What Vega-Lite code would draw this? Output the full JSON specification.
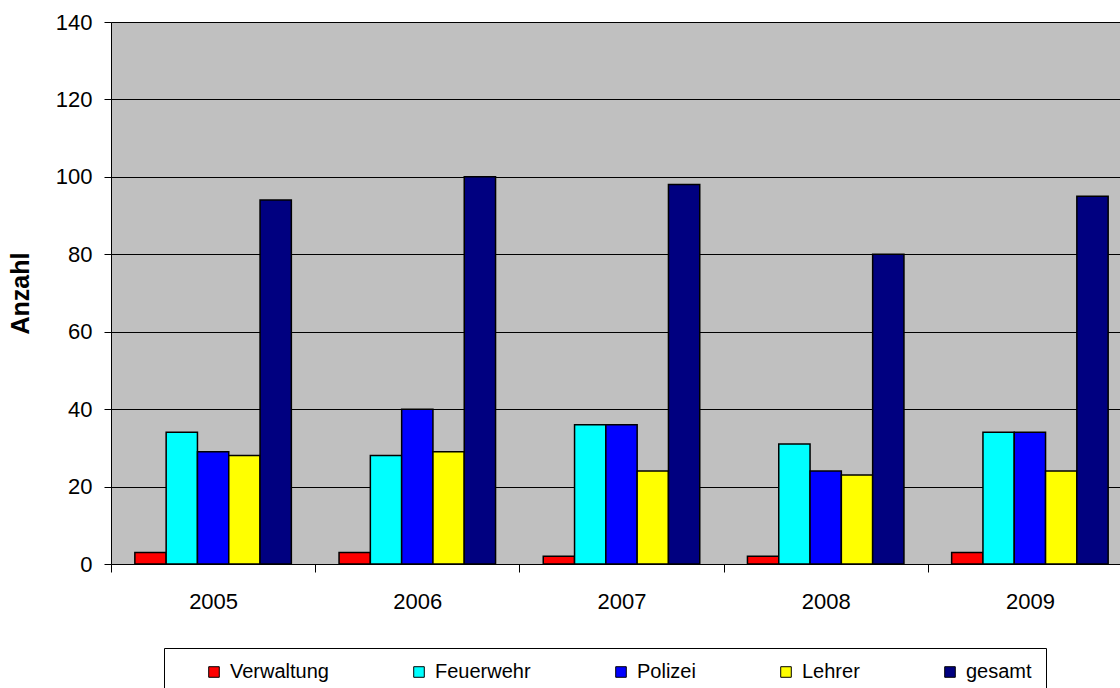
{
  "$schema": "https://vega.github.io/schema/vega-lite/v6.json",
  "autosize": {"type": "none"},
  "padding": {"left": 111, "top": 22, "right": 0, "bottom": 124},
  "width": 1009,
  "height": 542,
  "background": "white",
  "config": {
    "view": {"fill": "#C0C0C0", "stroke": null},
    "font": "Liberation Sans"
  },
  "data": {
    "values": [
      {"Jahr": "2005", "Gruppe": "Verwaltung", "Anzahl": 3},
      {"Jahr": "2005", "Gruppe": "Feuerwehr", "Anzahl": 34},
      {"Jahr": "2005", "Gruppe": "Polizei", "Anzahl": 29},
      {"Jahr": "2005", "Gruppe": "Lehrer", "Anzahl": 28},
      {"Jahr": "2005", "Gruppe": "gesamt", "Anzahl": 94},
      {"Jahr": "2006", "Gruppe": "Verwaltung", "Anzahl": 3},
      {"Jahr": "2006", "Gruppe": "Feuerwehr", "Anzahl": 28},
      {"Jahr": "2006", "Gruppe": "Polizei", "Anzahl": 40},
      {"Jahr": "2006", "Gruppe": "Lehrer", "Anzahl": 29},
      {"Jahr": "2006", "Gruppe": "gesamt", "Anzahl": 100},
      {"Jahr": "2007", "Gruppe": "Verwaltung", "Anzahl": 2},
      {"Jahr": "2007", "Gruppe": "Feuerwehr", "Anzahl": 36},
      {"Jahr": "2007", "Gruppe": "Polizei", "Anzahl": 36},
      {"Jahr": "2007", "Gruppe": "Lehrer", "Anzahl": 24},
      {"Jahr": "2007", "Gruppe": "gesamt", "Anzahl": 98},
      {"Jahr": "2008", "Gruppe": "Verwaltung", "Anzahl": 2},
      {"Jahr": "2008", "Gruppe": "Feuerwehr", "Anzahl": 31},
      {"Jahr": "2008", "Gruppe": "Polizei", "Anzahl": 24},
      {"Jahr": "2008", "Gruppe": "Lehrer", "Anzahl": 23},
      {"Jahr": "2008", "Gruppe": "gesamt", "Anzahl": 80},
      {"Jahr": "2009", "Gruppe": "Verwaltung", "Anzahl": 3},
      {"Jahr": "2009", "Gruppe": "Feuerwehr", "Anzahl": 34},
      {"Jahr": "2009", "Gruppe": "Polizei", "Anzahl": 34},
      {"Jahr": "2009", "Gruppe": "Lehrer", "Anzahl": 24},
      {"Jahr": "2009", "Gruppe": "gesamt", "Anzahl": 95}
    ]
  },
  "mark": {"type": "bar", "stroke": "black", "strokeWidth": 1.5},
  "encoding": {
    "x": {
      "field": "Jahr",
      "type": "nominal",
      "scale": {"range": [0, 1021], "paddingInner": 0, "paddingOuter": 0},
      "axis": {
        "title": null,
        "labelAngle": 0,
        "tickBand": "extent",
        "tickSize": 8,
        "tickColor": "black",
        "domainColor": "black",
        "labelFont": "Liberation Sans",
        "labelFontSize": 22,
        "labelColor": "black",
        "labelPadding": 19,
        "grid": false
      }
    },
    "xOffset": {
      "field": "Gruppe",
      "type": "nominal",
      "sort": ["Verwaltung", "Feuerwehr", "Polizei", "Lehrer", "gesamt"],
      "scale": {"paddingInner": 0, "paddingOuter": 0.762}
    },
    "y": {
      "field": "Anzahl",
      "type": "quantitative",
      "scale": {"domain": [0, 140], "nice": false},
      "axis": {
        "title": "Anzahl",
        "titleFont": "Liberation Sans",
        "titleFontSize": 25,
        "titleFontWeight": "bold",
        "titleColor": "black",
        "titlePadding": 22,
        "values": [0, 20, 40, 60, 80, 100, 120, 140],
        "labelFont": "Liberation Sans",
        "labelFontSize": 22,
        "labelColor": "black",
        "labelPadding": 12,
        "tickSize": 7,
        "tickColor": "black",
        "domainColor": "black",
        "gridColor": "black",
        "gridOpacity": 1,
        "gridWidth": 1
      }
    },
    "color": {
      "field": "Gruppe",
      "type": "nominal",
      "scale": {
        "domain": ["Verwaltung", "Feuerwehr", "Polizei", "Lehrer", "gesamt"],
        "range": ["#FF0000", "#00FFFF", "#0000FF", "#FFFF00", "#000080"]
      },
      "legend": {
        "title": null,
        "orient": "none",
        "legendX": 53,
        "legendY": 626,
        "direction": "horizontal",
        "fillColor": "white",
        "strokeColor": "black",
        "padding": 14,
        "symbolType": "square",
        "symbolSize": 112,
        "symbolStrokeColor": "black",
        "symbolStrokeWidth": 1,
        "symbolOpacity": 1,
        "symbolOffset": 26,
        "labelOffset": 6,
        "labelFont": "Liberation Sans",
        "labelFontSize": 20,
        "labelColor": "black",
        "columnPadding": 54
      }
    }
  }
}
